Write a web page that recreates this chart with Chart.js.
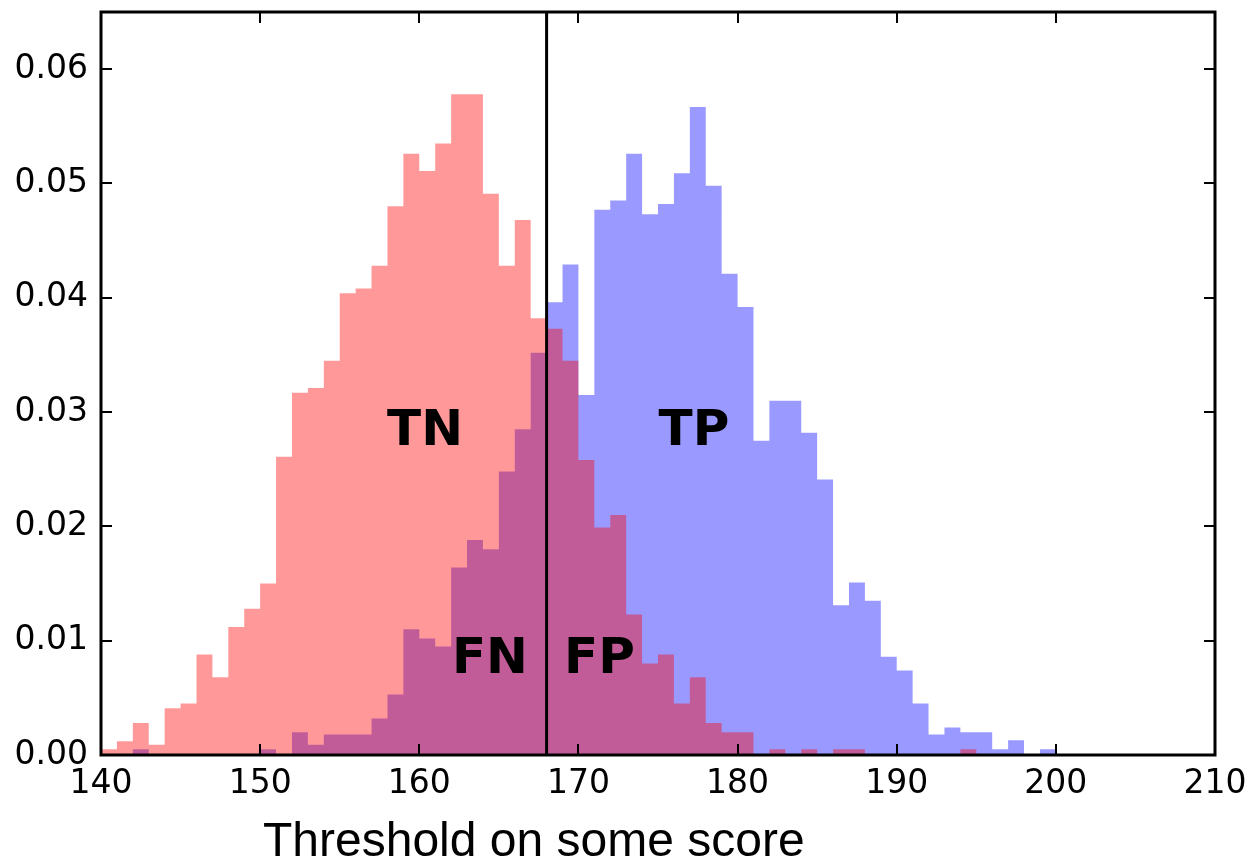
<!DOCTYPE html>
<html>
<head>
<meta charset="utf-8">
<script src="https://cdn.jsdelivr.net/npm/chart.js@4.4.1/dist/chart.umd.min.js"></script>
<style>
  html, body { margin: 0; padding: 0; background: #ffffff; }
  #wrap { position: relative; width: 1250px; height: 862px; }
  canvas { display: block; }
</style>
</head>
<body>
<div id="wrap"><canvas id="c" width="1250" height="862"></canvas></div>
<script>
// ---- data ----
const binEdges = [140,141,142,143,144,145,146,147,148,149,
                  150,151,152,153,154,155,156,157,158,159,
                  160,161,162,163,164,165,166,167,168,169,
                  170,171,172,173,174,175,176,177,178,179,
                  180,181,182,183,184,185,186,187,188,189,
                  190,191,192,193,194,195,196,197,198,199,200];

// negatives (red histogram), one value per bin starting at binEdges[i]
const negDensity = [0.0005,0.0012,0.0028,0.0009,0.0041,0.0045,0.0088,0.0068,0.0112,0.0128,
                    0.0150,0.0261,0.0317,0.0321,0.0345,0.0404,0.0408,0.0428,0.0480,0.0526,
                    0.0511,0.0535,0.0578,0.0578,0.0491,0.0428,0.0468,0.0382,0.0373,0.0345,
                    0.0258,0.0199,0.0210,0.0123,0.0080,0.0088,0.0045,0.0068,0.0028,0.0020,
                    0.0020,0,0.0005,0,0.0005,0,0.0005,0.0005,0,0,
                    0,0,0,0,0.0005,0,0,0,0,0];

// positives (blue histogram)
const posDensity = [0,0,0.0005,0,0,0,0,0,0,0,
                    0.0005,0,0.0020,0.0009,0.0018,0.0018,0.0018,0.0032,0.0053,0.0110,
                    0.0102,0.0095,0.0164,0.0188,0.0180,0.0248,0.0285,0.0352,0.0396,0.0429,
                    0.0315,0.0477,0.0485,0.0526,0.0473,0.0482,0.0509,0.0567,0.0498,0.0421,
                    0.0392,0.0275,0.0310,0.0310,0.0282,0.0241,0.0131,0.0151,0.0135,0.0086,
                    0.0074,0.0045,0.0018,0.0024,0.0020,0.0020,0.0005,0.0013,0,0.0005];

const xTicks = [140,150,160,170,180,190,200,210];
const yTicks = [0.00,0.01,0.02,0.03,0.04,0.05,0.06];
const threshold = 168;
const regionLabels = [
  { text: 'TN', x: 160.36, y: 0.0271 },
  { text: 'TP', x: 177.26, y: 0.0271 },
  { text: 'FN', x: 164.44, y: 0.00718 },
  { text: 'FP', x: 171.32, y: 0.00718 }
];
const xAxisTitle = 'Threshold on some score';

// ---- helpers ----
function toSteps(values) {
  const pts = values.map((v, i) => ({ x: binEdges[i], y: v }));
  pts.push({ x: binEdges[values.length], y: 0 });
  return pts;
}

const overlay = {
  id: 'overlay',
  afterDraw(chart) {
    const { ctx, chartArea: a, scales } = chart;
    const xs = scales.x, ys = scales.y;
    ctx.save();
    // threshold line
    const tx = xs.getPixelForValue(threshold);
    ctx.strokeStyle = '#000';
    ctx.lineWidth = 3;
    ctx.beginPath();
    ctx.moveTo(tx, a.top);
    ctx.lineTo(tx, a.bottom);
    ctx.stroke();

    // region labels
    ctx.fillStyle = '#000';
    ctx.font = 'bold 50px "DejaVu Sans"';
    ctx.textAlign = 'center';
    ctx.textBaseline = 'alphabetic';
    regionLabels.forEach(l => {
      ctx.fillText(l.text, xs.getPixelForValue(l.x), ys.getPixelForValue(l.y));
    });

    // inward ticks on all four sides
    const tl = 11;
    ctx.lineWidth = 2;
    ctx.beginPath();
    xTicks.forEach(v => {
      const px = Math.round(xs.getPixelForValue(v));
      ctx.moveTo(px, a.bottom); ctx.lineTo(px, a.bottom - tl);
      ctx.moveTo(px, a.top); ctx.lineTo(px, a.top + tl);
    });
    yTicks.forEach(v => {
      const py = Math.round(ys.getPixelForValue(v));
      ctx.moveTo(a.left, py); ctx.lineTo(a.left + tl, py);
      ctx.moveTo(a.right, py); ctx.lineTo(a.right - tl, py);
    });
    ctx.stroke();

    // frame
    ctx.lineWidth = 3;
    ctx.strokeRect(a.left, a.top, a.right - a.left, a.bottom - a.top);

    // axis title
    ctx.font = '48px "Liberation Sans", Arial, sans-serif';
    ctx.textAlign = 'left';
    ctx.fillText(xAxisTitle, 263, 856);
    ctx.restore();
  }
};

new Chart(document.getElementById('c'), {
  type: 'line',
  data: {
    datasets: [
      {
        label: 'negatives',
        data: toSteps(negDensity),
        stepped: true,
        fill: 'origin',
        backgroundColor: 'rgba(255,0,0,0.4)',
        borderColor: 'rgba(0,0,0,0)',
        borderWidth: 0,
        pointRadius: 0,
        pointHoverRadius: 0
      },
      {
        label: 'positives',
        data: toSteps(posDensity),
        stepped: true,
        fill: 'origin',
        backgroundColor: 'rgba(0,0,255,0.4)',
        borderColor: 'rgba(0,0,0,0)',
        borderWidth: 0,
        pointRadius: 0,
        pointHoverRadius: 0
      }
    ]
  },
  options: {
    responsive: false,
    animation: false,
    devicePixelRatio: 1,
    layout: { padding: { left: 0, right: 35, top: 12, bottom: 0 } },
    plugins: { legend: { display: false }, tooltip: { enabled: false } },
    events: [],
    scales: {
      x: {
        type: 'linear',
        min: 140, max: 210,
        afterBuildTicks: s => { s.ticks = xTicks.map(v => ({ value: v })); },
        afterFit: s => { s.height = 107; s.paddingLeft = 0; s.paddingRight = 0; },
        grid: { display: false, drawTicks: false },
        border: { display: false },
        ticks: {
          color: '#000',
          font: { family: 'DejaVu Sans', size: 33 },
          padding: 10,
          maxRotation: 0,
          autoSkip: false,
          callback: v => String(v)
        }
      },
      y: {
        type: 'linear',
        min: 0, max: 0.065,
        afterBuildTicks: s => { s.ticks = yTicks.map(v => ({ value: v })); },
        afterFit: s => { s.width = 101; s.paddingTop = 0; s.paddingBottom = 0; },
        grid: { display: false, drawTicks: false },
        border: { display: false },
        ticks: {
          color: '#000',
          font: { family: 'DejaVu Sans', size: 33 },
          padding: 13,
          autoSkip: false,
          callback: v => Number(v).toFixed(2)
        }
      }
    }
  },
  plugins: [overlay]
});
</script>
</body>
</html>
